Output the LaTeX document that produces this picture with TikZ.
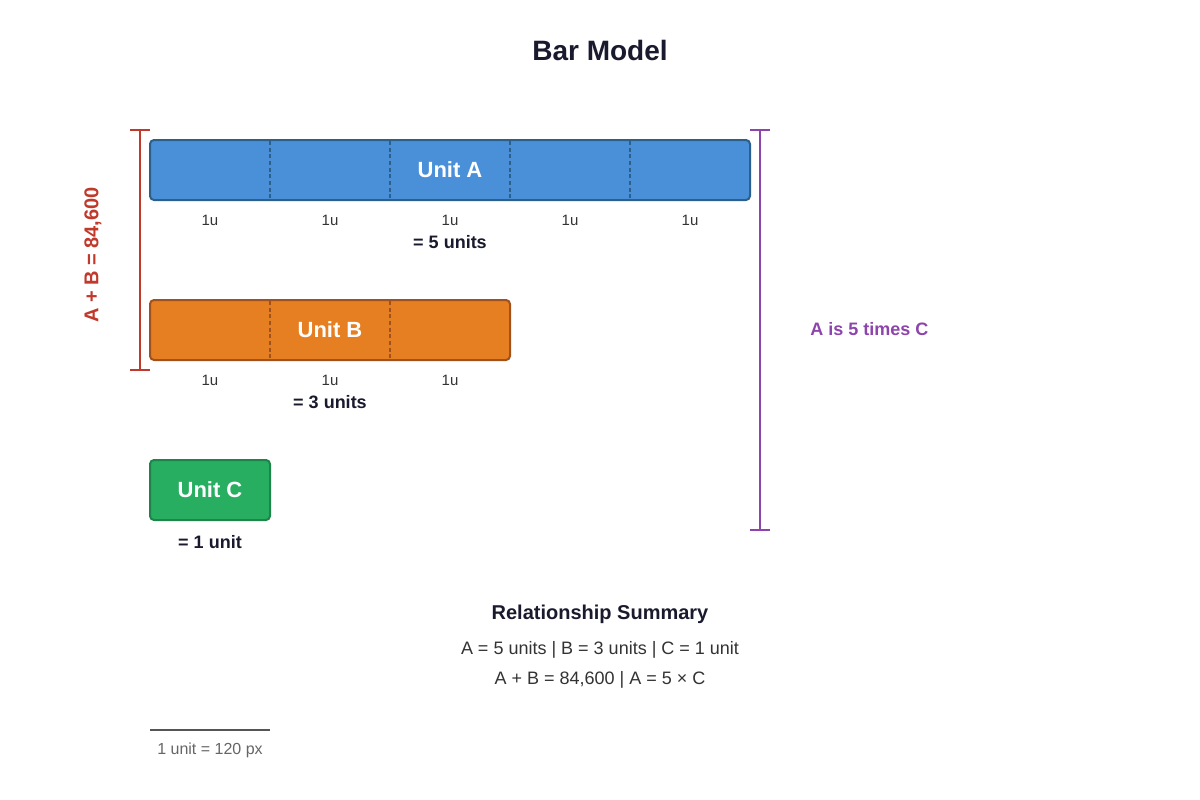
\documentclass[tikz,border=0pt]{standalone}
\usepackage{fontspec}
\setmainfont{Liberation Sans}
\begin{document}
\begin{tikzpicture}[x=0.75pt,y=-0.75pt,
  bar/.style={draw, line width=1.5pt, rounded corners=3pt, anchor=north west, inner sep=0pt, outer sep=0pt},
  barlabel/.style={font=\fontsize{16.5}{20}\selectfont\bfseries, text=white},
  divider/.style={line width=0.8pt, dash pattern=on 3pt off 2pt},
  ulabel/.style={font=\fontsize{11.25}{14}\selectfont, text=txtc},
  total/.style={font=\fontsize{13.5}{16}\selectfont\bfseries, text=titlecol},
  ]
\definecolor{titlecol}{HTML}{1A1A2E}
\definecolor{afill}{HTML}{4A90D9}
\definecolor{adraw}{HTML}{2C5F8A}
\definecolor{bfill}{HTML}{E67E22}
\definecolor{bdraw}{HTML}{A0521E}
\definecolor{cfill}{HTML}{27AE60}
\definecolor{cdraw}{HTML}{1E8449}
\definecolor{redc}{HTML}{C0392B}
\definecolor{purc}{HTML}{8E44AD}
\definecolor{txtc}{HTML}{333333}
\definecolor{grayc}{HTML}{666666}
\definecolor{linec}{HTML}{555555}
\useasboundingbox (0,0) rectangle (1200,800);
\fill[white] (0,0) rectangle (1200,800);

\node[font=\fontsize{21}{25}\selectfont\bfseries, text=titlecol] (title) at (600,50) {Bar Model};

% Bar A
\node[bar, fill=afill, draw=adraw, minimum width=450pt, minimum height=45pt] (barA) at (150,140) {};
\foreach \x in {270,390,510,630} \draw[divider, draw=adraw] (\x,141) -- (\x,199);
\node[barlabel] (labA) at (barA.center) {Unit A};
\foreach \x [count=\i] in {210,330,450,570,690} \node[ulabel] (ua\i) at (\x,220) {1u};
\node[total] (totA) at (450,242) {= 5 units};

% Bar B
\node[bar, fill=bfill, draw=bdraw, minimum width=270pt, minimum height=45pt] (barB) at (150,300) {};
\foreach \x in {270,390} \draw[divider, draw=bdraw] (\x,301) -- (\x,359);
\node[barlabel] (labB) at (barB.center) {Unit B};
\foreach \x [count=\i] in {210,330,450} \node[ulabel] (ub\i) at (\x,380) {1u};
\node[total] (totB) at (330,402) {= 3 units};

% Bar C
\node[bar, fill=cfill, draw=cdraw, minimum width=90pt, minimum height=45pt] (barC) at (150,460) {};
\node[barlabel] (labC) at (barC.center) {Unit C};
\node[total] (totC) at (210,542) {= 1 unit};

% Red bracket
\coordinate (rt) at (140,130);
\coordinate (rb) at (140,370);
\draw[redc, line width=1.5pt] (rt) -- (rb);
\draw[redc, line width=1.5pt] (130,130) -- (150,130);
\draw[redc, line width=1.5pt] (130,370) -- (150,370);
\node[font=\fontsize{15}{18}\selectfont\bfseries, text=redc, rotate=90] (sumlab) at (93,255) {A + B = 84,600};

% Purple bracket
\coordinate (pt) at (760,130);
\coordinate (pb) at (760,530);
\draw[purc, line width=1.5pt] (pt) -- (pb);
\draw[purc, line width=1.5pt] (750,130) -- (770,130);
\draw[purc, line width=1.5pt] (750,530) -- (770,530);
\node[font=\fontsize{13.5}{16}\selectfont\bfseries, text=purc, anchor=west, inner sep=0pt] (timeslab) at (810,329) {A is 5 times C};

% Summary
\node[font=\fontsize{15}{18}\selectfont\bfseries, text=titlecol] (sumtitle) at (600,614) {Relationship Summary};
\node[font=\fontsize{13.5}{16}\selectfont, text=txtc] (sum1) at (600,650) {A = 5 units | B = 3 units | C = 1 unit};
\node[font=\fontsize{13.5}{16}\selectfont, text=txtc] (sum2) at (600,680) {A + B = 84,600 | A = 5 × C};

% Scale
\coordinate (s1) at (150,730);
\coordinate (s2) at (270,730);
\draw[linec, line width=1.5pt] (s1) -- (s2);
\node[font=\fontsize{12}{14}\selectfont, text=grayc] (scalelab) at (210,750) {1 unit = 120 px};
\end{tikzpicture}
\end{document}
